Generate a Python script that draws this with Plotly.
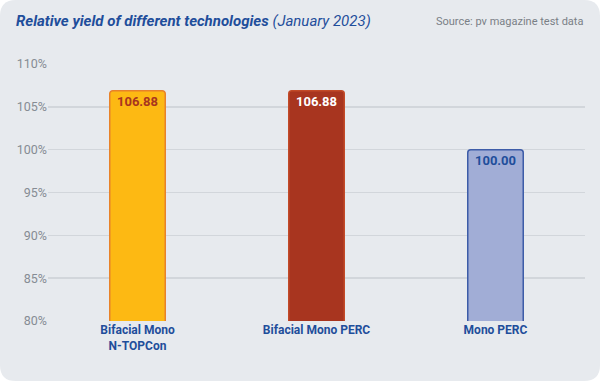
import plotly.graph_objects as go

categories = ["Bifacial Mono<br>N-TOPCon", "Bifacial Mono PERC", "Mono PERC"]
values = [106.88, 106.88, 100.00]
value_labels = ["106.88", "106.88", "100.00"]
tick_values = [80, 85, 90, 95, 100, 105, 110]
tick_labels = ["80%", "85%", "90%", "95%", "100%", "105%", "110%"]

fill_colors = ["#fdb913", "#a8351f", "#a1add6"]
line_colors = ["#e8822a", "#c24a28", "#3d5ca8"]
text_colors = ["#a8351f", "#ffffff", "#1f4e9b"]

FONT = "Roboto, Liberation Sans Narrow, sans-serif"

W, H = 600, 381
ML, MR, MT, MB = 48, 15, 64, 60
PW, PH = W - ML - MR, H - MT - MB


def px(x):
    return (x - ML) / PW


def py(y):
    return (H - MB - y) / PH


# rounded background rectangle in paper coordinates
r = 16
x0, y0, x1, y1 = 0, 0, W, H
pts = [
    ("M", px(x0 + r), py(y0)),
    ("L", px(x1 - r), py(y0)),
    ("Q", px(x1), py(y0), px(x1), py(y0 + r)),
    ("L", px(x1), py(y1 - r)),
    ("Q", px(x1), py(y1), px(x1 - r), py(y1)),
    ("L", px(x0 + r), py(y1)),
    ("Q", px(x0), py(y1), px(x0), py(y1 - r)),
    ("L", px(x0), py(y0 + r)),
    ("Q", px(x0), py(y0), px(x0 + r), py(y0)),
]
path = " ".join(p[0] + " " + ",".join(f"{v:.5f}" for v in p[1:]) for p in pts) + " Z"

fig = go.Figure()
fig.add_trace(go.Bar(
    x=categories,
    y=values,
    base=0,
    width=0.31,
    text=value_labels,
    textposition="inside",
    insidetextanchor="end",
    textangle=0,
    constraintext="none",
    textfont=dict(family=FONT, size=13, color=text_colors, weight="bold"),
    marker=dict(color=fill_colors, line=dict(color=line_colors, width=1.5), cornerradius=3),
    hoverinfo="skip",
))

fig.update_layout(
    width=W, height=H,
    margin=dict(l=ML, r=MR, t=MT, b=MB),
    paper_bgcolor="#ffffff",
    plot_bgcolor="rgba(0,0,0,0)",
    showlegend=False,
    font=dict(family=FONT),
    shapes=[dict(type="path", path=path, xref="paper", yref="paper",
                 fillcolor="#e7eaee", line=dict(width=0), layer="below")],
    annotations=[
        dict(xref="paper", yref="paper", x=px(14), y=py(21), xanchor="left", yanchor="middle",
             showarrow=False,
             text="<b><i>Relative yield of different technologies</i></b> <i>(January 2023)</i>",
             font=dict(family=FONT, size=15, color="#1f4e9b")),
        dict(xref="paper", yref="paper", x=px(585), y=py(22), xanchor="right", yanchor="middle",
             showarrow=False, text="Source: pv magazine test data",
             font=dict(family=FONT, size=11, color="#7a7f86")),
    ],
    xaxis=dict(
        showgrid=False, zeroline=False, showline=False, ticks="",
        tickfont=dict(family=FONT, size=12, color="#1f4e9b", weight="bold"),
    ),
    yaxis=dict(
        range=[80, 110], tickvals=tick_values, ticktext=tick_labels,
        showgrid=True, gridcolor="#d2d6db", gridwidth=1.5,
        zeroline=False, showline=False, ticks="",
        tickfont=dict(family=FONT, size=12.5, color="#868c94"),
    ),
)

fig.write_html("out.html",
               config={"displayModeBar": False, "staticPlot": True},
               post_script="document.body.style.margin='0';document.body.style.overflow='hidden';")
